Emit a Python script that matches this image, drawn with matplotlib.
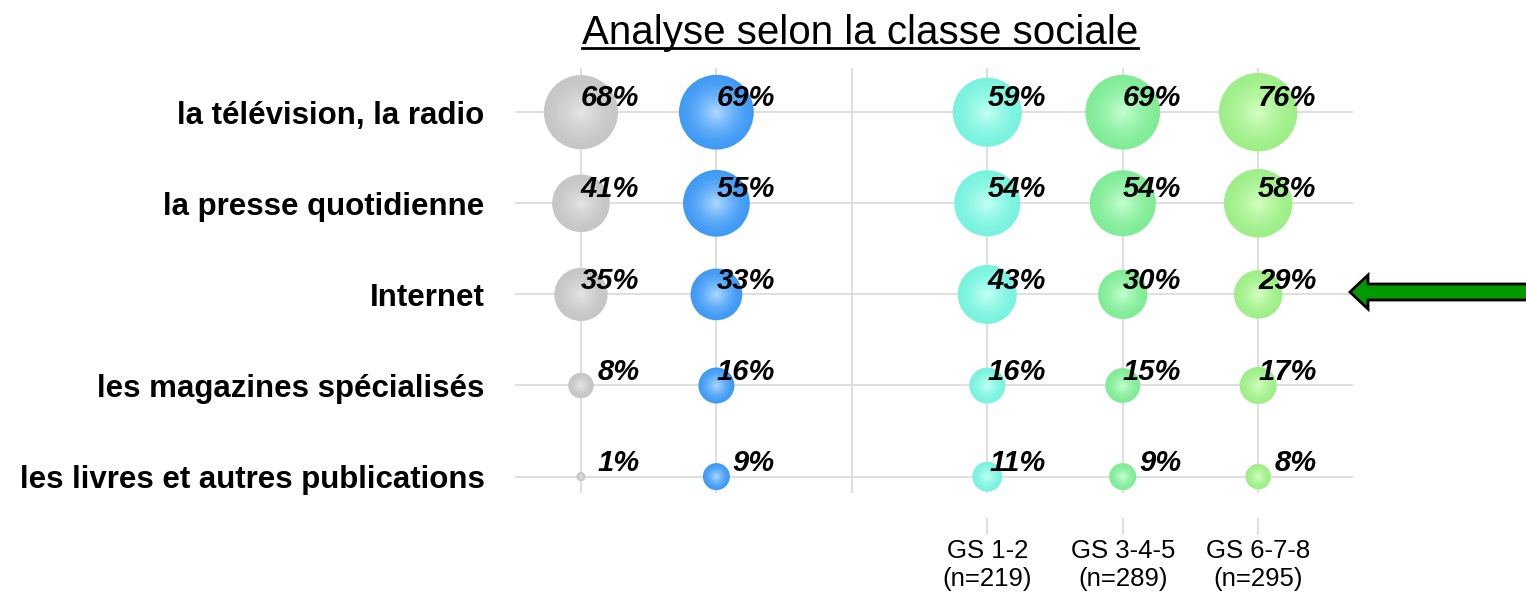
import numpy as np
import matplotlib
matplotlib.use("Agg")
import matplotlib.pyplot as plt
from matplotlib import colors
from matplotlib.patches import FancyArrow
from matplotlib.lines import Line2D

plt.rcParams['font.family'] = ['Liberation Sans', 'DejaVu Sans']

categories = ["la télévision, la radio", "la presse quotidienne", "Internet",
              "les magazines spécialisés", "les livres et autres publications"]
group_labels = ["GS 1-2\n(n=219)", "GS 3-4-5\n(n=289)", "GS 6-7-8\n(n=295)"]

gray_vals = [68, 41, 35, 8, 1]
blue_vals = [69, 55, 33, 16, 9]
gs12_vals = [59, 54, 43, 16, 11]
gs345_vals = [69, 54, 30, 15, 9]
gs678_vals = [76, 58, 29, 17, 8]

series = [
    (0, gray_vals, "#c6c6c6", "#e4e4e4"),
    (1, blue_vals, "#409af5", "#a8d6ff"),
    (3, gs12_vals, "#78f3de", "#c0fff4"),
    (4, gs345_vals, "#80ec96", "#c2ffce"),
    (5, gs678_vals, "#9eef88", "#d2ffc0"),
]

fig = plt.figure(figsize=(15.26, 5.96), dpi=100)
ax = fig.add_axes([515 / 1526, 103 / 596, 838 / 1526, 425 / 596])
ax.set_xlim(-0.487, 5.70)
ax.set_ylim(4.18, -0.485)

# grid
for r in range(len(categories)):
    ax.axhline(r, color="#d9d9d9", lw=1.2, zorder=0)
for c in range(6):
    ax.axvline(c, color="#d9d9d9", lw=1.2, zorder=0)

rows = np.arange(len(categories))
for col, vals, edge, center in series:
    vals = np.array(vals, dtype=float)
    c0 = np.array(colors.to_rgb(edge))
    c1 = np.array(colors.to_rgb(center))
    n = 16
    for k in range(n):
        f = 1 - k / n
        t = (k / (n - 1)) ** 1.5
        col_rgb = c0 * (1 - t) + c1 * t
        ax.scatter(np.full(len(vals), col), rows, s=42 * vals * f ** 2,
                   color=col_rgb, linewidths=0, zorder=2 + k * 0.01)
    for r, v in zip(rows, vals):
        ax.annotate(f"{int(v)}%", (col, r), xytext=(42, 10),
                    textcoords="offset points", ha="right", va="center",
                    fontsize=21, fontweight="bold", fontstyle="italic",
                    zorder=5)

for s in ax.spines.values():
    s.set_visible(False)
ax.spines['bottom'].set_position(('outward', 18))

ax.set_yticks(rows)
ax.set_yticklabels(categories, fontsize=22.5, fontweight="bold")
ax.tick_params(axis='y', length=0, pad=22)
ax.set_xticks([3, 4, 5])
ax.set_xticklabels(group_labels, fontsize=18.5, linespacing=1.2)
ax.tick_params(axis='x', length=12, width=1.5, color="#e0e0e0", pad=3)

# title with underline
title = fig.text(860 / 1526, 1 - 44 / 596, "Analyse selon la classe sociale",
                 ha="center", va="baseline", fontsize=29)
fig.canvas.draw()
bb = title.get_window_extent().transformed(fig.transFigure.inverted())
yline = 1 - 48 / 596
fig.add_artist(Line2D([bb.x0, bb.x1], [yline, yline], color="black", lw=2,
                      transform=fig.transFigure))

# green arrow pointing at Internet row
arrow = FancyArrow(1.01, 1 - 292 / 596, 1350 / 1526 - 1.01, 0,
                   width=16 / 596, head_width=34 / 596, head_length=18 / 1526,
                   length_includes_head=True, transform=fig.transFigure,
                   facecolor="#009a00", edgecolor="black", lw=2)
fig.add_artist(arrow)

fig.savefig("out.png", dpi=100)
